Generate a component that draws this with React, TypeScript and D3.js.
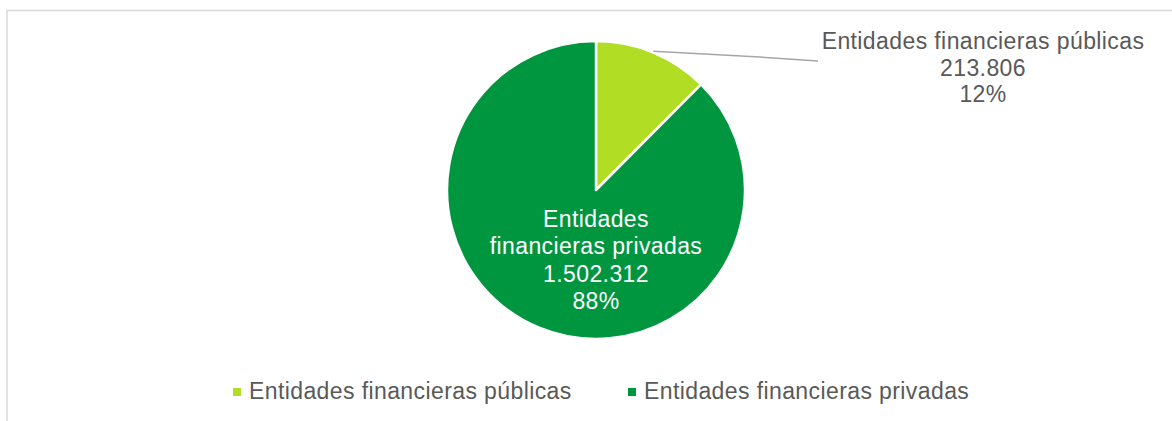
import { useEffect, useRef } from 'react';
import * as d3 from 'd3';

const categories = ['Entidades financieras públicas', 'Entidades financieras privadas'];
const values = [213806, 1502312];
const colors = ['#b2dd25', '#00963f'];

const fmt = (v: number) => d3.format(',')(v).replace(/,/g, '.');

export default function App() {
  const ref = useRef<SVGSVGElement>(null);

  useEffect(() => {
    if (!ref.current) return;
    const width = 1172;
    const height = 421;
    const svg = d3.select(ref.current);
    svg.selectAll('*').remove();

    // frame (only top and left edges visible in the crop)
    svg.append('rect')
      .attr('x', 7)
      .attr('y', 10.5)
      .attr('width', width + 20)
      .attr('height', height + 20)
      .attr('fill', '#fff')
      .attr('stroke', '#d9d9d9')
      .attr('stroke-width', 1.5);

    const cx = 596;
    const cy = 190;
    const radius = 149;
    const total = d3.sum(values);

    const pie = d3.pie<number>().sort(null).value(d => d);
    const arcs = pie(values);
    const arc = d3.arc<d3.PieArcDatum<number>>().innerRadius(0).outerRadius(radius);

    const g = svg.append('g').attr('transform', `translate(${cx},${cy})`);

    g.selectAll('path')
      .data(arcs)
      .join('path')
      .attr('d', arc)
      .attr('fill', (_, i) => colors[i])
      .attr('stroke', '#fff')
      .attr('stroke-width', 2.5)
      .attr('stroke-linejoin', 'round');

    const font = 'Liberation Sans';
    const fs = 23;
    const ls = 0.4;
    const lh = 26.5;

    // outside label for the small slice
    const pub = arcs[0];
    const midA = (pub.startAngle + pub.endAngle) / 2;
    const startPt: [number, number] = [cx + Math.sin(midA) * (radius + 1), cy - Math.cos(midA) * (radius + 1)];
    svg.append('path')
      .attr('d', d3.line()([startPt, [760, 57], [818, 61]]))
      .attr('fill', 'none')
      .attr('stroke', '#a6a6a6')
      .attr('stroke-width', 1.5);

    const pubLines = [categories[0], fmt(values[0]), `${Math.round(values[0] / total * 100)}%`];
    const pubText = svg.append('text')
      .attr('x', 983)
      .attr('y', 49)
      .attr('text-anchor', 'middle')
      .attr('font-family', font)
      .attr('font-size', fs)
      .attr('letter-spacing', ls)
      .attr('fill', '#595959');
    pubLines.forEach((t, i) => {
      pubText.append('tspan').attr('x', 983).attr('dy', i === 0 ? 0 : lh).text(t);
    });

    // inside label for the large slice
    const privLines = ['Entidades', 'financieras privadas', fmt(values[1]), `${Math.round(values[1] / total * 100)}%`];
    const privText = svg.append('text')
      .attr('x', cx)
      .attr('y', 227)
      .attr('text-anchor', 'middle')
      .attr('font-family', font)
      .attr('font-size', fs)
      .attr('letter-spacing', ls)
      .attr('fill', '#fff');
    privLines.forEach((t, i) => {
      privText.append('tspan').attr('x', cx).attr('dy', i === 0 ? 0 : lh + 0.8).text(t);
    });

    // legend
    const legendX = [233, 628];
    const legend = svg.append('g');
    categories.forEach((c, i) => {
      legend.append('rect')
        .attr('x', legendX[i])
        .attr('y', 388)
        .attr('width', 8)
        .attr('height', 8)
        .attr('fill', colors[i]);
      legend.append('text')
        .attr('x', legendX[i] + 16)
        .attr('y', 399)
        .attr('font-family', font)
        .attr('font-size', fs)
        .attr('letter-spacing', ls)
        .attr('fill', '#595959')
        .text(c);
    });
  }, []);

  return (
    <svg
      ref={ref}
      width={1172}
      height={421}
      style={{ position: 'absolute', left: 0, top: 0, display: 'block' }}
    />
  );
}
